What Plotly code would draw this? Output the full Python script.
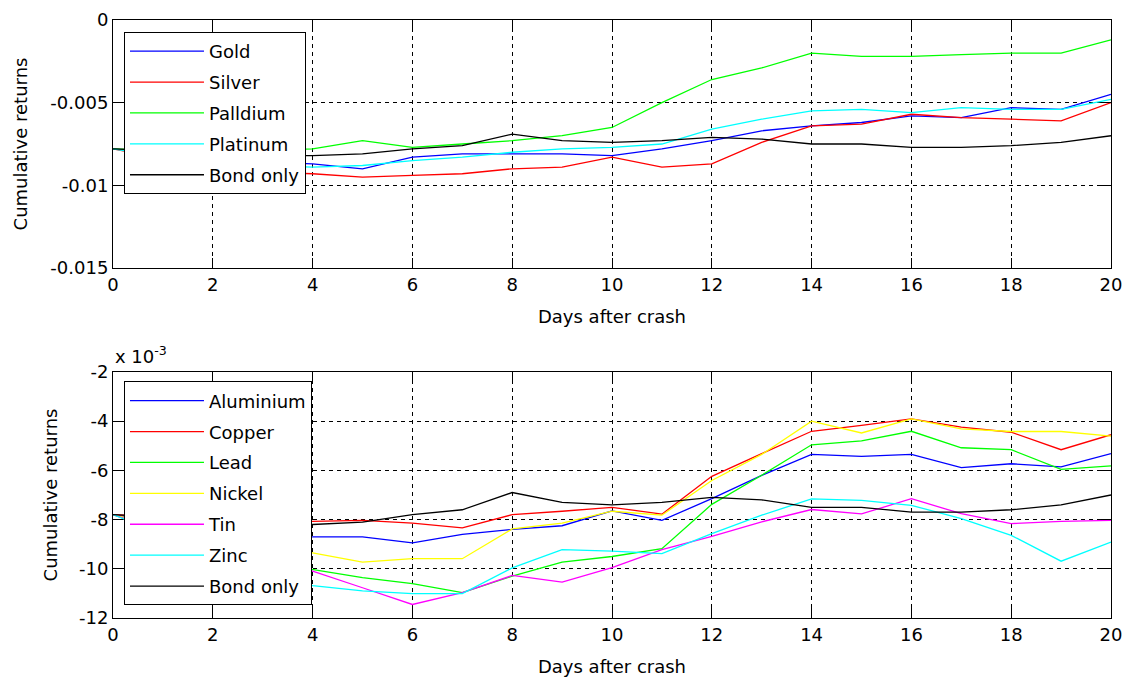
import plotly.graph_objects as go
from plotly.subplots import make_subplots

# Days after the crash
days = list(range(21))

# Precious metals portfolios: cumulative returns
gold = [-0.0078, -0.0081, -0.0084, -0.0086, -0.0087, -0.0090, -0.0083, -0.0081, -0.0081, -0.0081, -0.0082,
        -0.0078, -0.0073, -0.0067, -0.0064, -0.0062, -0.0058, -0.0059, -0.0053, -0.0054, -0.0045]
silver = [-0.0078, -0.0084, -0.0089, -0.0092, -0.0093, -0.0095, -0.0094, -0.0093, -0.0090, -0.0089, -0.0083,
          -0.0089, -0.0087, -0.0074, -0.0064, -0.0063, -0.0057, -0.0059, -0.0060, -0.0061, -0.0050]
palladium = [-0.0078, -0.0079, -0.0080, -0.0079, -0.0078, -0.0073, -0.0077, -0.0075, -0.0073, -0.0070, -0.0065,
             -0.0050, -0.0036, -0.0029, -0.0020, -0.0022, -0.0022, -0.0021, -0.0020, -0.0020, -0.0012]
platinum = [-0.0078, -0.0083, -0.0086, -0.0088, -0.0089, -0.0088, -0.0085, -0.0083, -0.0080, -0.0078, -0.0077,
            -0.0075, -0.0066, -0.0060, -0.0055, -0.0054, -0.0056, -0.0053, -0.0054, -0.0054, -0.0048]
bond_only = [-0.0078, -0.0079, -0.0081, -0.0082, -0.0082, -0.0081, -0.0078, -0.0076, -0.0069, -0.0073, -0.0074,
             -0.0073, -0.0071, -0.0072, -0.0075, -0.0075, -0.0077, -0.0077, -0.0076, -0.0074, -0.0070]

# Base metals portfolios: cumulative returns in units of 1e-3
aluminium = [-7.8, -8.1, -8.4, -8.6, -8.7, -8.7, -8.95, -8.6, -8.4, -8.25, -7.65,
             -8.03, -7.15, -6.2, -5.35, -5.43, -5.35, -5.89, -5.73, -5.86, -5.32]
copper = [-7.8, -7.9, -8.0, -8.05, -8.07, -8.03, -8.14, -8.34, -7.8, -7.66, -7.5,
          -7.78, -6.24, -5.32, -4.41, -4.17, -3.91, -4.24, -4.45, -5.16, -4.55]
lead = [-7.8, -8.5, -9.2, -9.7, -10.03, -10.36, -10.6, -10.97, -10.3, -9.73, -9.5,
        -9.18, -7.38, -6.2, -4.96, -4.8, -4.41, -5.08, -5.16, -5.96, -5.82]
nickel = [-7.8, -8.3, -8.8, -9.1, -9.35, -9.73, -9.59, -9.59, -8.38, -8.14, -7.66,
          -7.82, -6.41, -5.35, -4.0, -4.48, -3.91, -4.31, -4.42, -4.42, -4.61]
tin = [-7.8, -8.5, -9.2, -9.7, -10.1, -10.77, -11.45, -10.97, -10.27, -10.54, -9.95,
       -9.22, -8.68, -8.09, -7.59, -7.77, -7.15, -7.76, -8.16, -8.07, -8.03]
zinc = [-7.8, -8.6, -9.4, -10.1, -10.68, -10.9, -11.01, -11.01, -9.96, -9.22, -9.28,
        -9.38, -8.57, -7.82, -7.16, -7.22, -7.42, -7.96, -8.64, -9.69, -8.91]
bond_only_milli = [v * 1000 for v in bond_only]

# Tick labels
x_ticks = list(range(0, 21, 2))
top_y_ticks = [0, -0.005, -0.01, -0.015]
top_y_labels = ["0", "-0.005", "-0.01", "-0.015"]
bottom_y_ticks = [-2, -4, -6, -8, -10, -12]
bottom_y_labels = ["-2", "-4", "-6", "-8", "-10", "-12"]

FONT = "DejaVu Sans"
FS = 18

top_series = [("Gold", gold, "#0000FF"), ("Silver", silver, "#FF0000"),
              ("Palldium", palladium, "#00FF00"), ("Platinum", platinum, "#00FFFF"),
              ("Bond only", bond_only, "#000000")]
bottom_series = [("Aluminium", aluminium, "#0000FF"), ("Copper", copper, "#FF0000"),
                 ("Lead", lead, "#00FF00"), ("Nickel", nickel, "#FFFF00"),
                 ("Tin", tin, "#FF00FF"), ("Zinc", zinc, "#00FFFF"),
                 ("Bond only", bond_only_milli, "#000000")]

fig = make_subplots(rows=2, cols=1, vertical_spacing=0.0)

for i, (name, vals, col) in enumerate(top_series):
    fig.add_trace(go.Scatter(x=days, y=vals, mode="lines", name=name,
                             line=dict(color=col, width=1.3),
                             legend="legend", legendgroup=f"a{i}"), row=1, col=1)
for i, (name, vals, col) in enumerate(bottom_series):
    fig.add_trace(go.Scatter(x=days, y=vals, mode="lines", name=name,
                             line=dict(color=col, width=1.3),
                             legend="legend2", legendgroup=f"b{i}"), row=2, col=1)

axis_common = dict(
    showline=True, linecolor="black", linewidth=1, mirror="ticks",
    ticks="inside", ticklen=10, tickcolor="black", tickwidth=1,
    showgrid=True, gridcolor="black", griddash="4px,4px", gridwidth=1,
    zeroline=False, automargin=False,
    tickfont=dict(family=FONT, size=FS, color="black"),
)

for r in (1, 2):
    fig.update_xaxes(range=[0, 20], tickvals=x_ticks, ticktext=[str(t) for t in x_ticks],
                     title=dict(text="Days after crash", font=dict(family=FONT, size=FS, color="black"),
                                standoff=16),
                     row=r, col=1, **axis_common)

fig.update_yaxes(range=[-0.015, 0], tickvals=top_y_ticks, ticktext=top_y_labels,
                 domain=[0.5853, 1.0],
                 title=dict(text="Cumulative returns", font=dict(family=FONT, size=FS, color="black"),
                            standoff=18),
                 row=1, col=1, **axis_common)
fig.update_yaxes(range=[-12, -2], tickvals=bottom_y_ticks, ticktext=bottom_y_labels,
                 domain=[0.0, 0.4114],
                 title=dict(text="Cumulative returns", font=dict(family=FONT, size=FS, color="black"),
                            standoff=16),
                 row=2, col=1, **axis_common)

legend_style = dict(
    xanchor="left", yanchor="top", bgcolor="white", bordercolor="black", borderwidth=1,
    font=dict(family=FONT, size=FS, color="black"), tracegroupgap=4.5, itemwidth=74,
)

fig.update_layout(
    width=1128, height=682,
    margin=dict(l=113, r=17, t=20, b=64),
    paper_bgcolor="white", plot_bgcolor="white",
    legend=dict(x=0.011, y=0.980, **legend_style),
    legend2=dict(x=0.011, y=0.3956, **legend_style),
    annotations=[dict(text="x 10<sup>-3</sup>", xref="paper", yref="paper", x=0.0, y=0.4398,
                      xanchor="left", yanchor="middle", showarrow=False,
                      font=dict(family=FONT, size=FS, color="black"))],
)

fig.write_html("out.html")
